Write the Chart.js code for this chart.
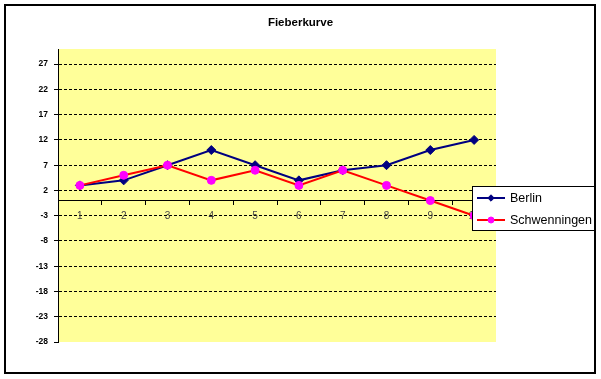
<!DOCTYPE html>
<html>
<head>
<meta charset="utf-8">
<script src="https://cdn.jsdelivr.net/npm/chart.js@4/dist/chart.umd.min.js"></script>
<style>
html,body{margin:0;padding:0;background:#fff;}
#wrap{width:601px;height:379px;}
</style>
</head>
<body>
<div id="wrap"><canvas id="c" width="601" height="379"></canvas></div>
<script>
const categories = ['1','2','3','4','5','6','7','8','9','10'];
const berlin = [3,4,7,10,7,4,6,7,10,12];
const schwenningen = [3,5,7,4,6,3,6,3,0,-3];
const yTicks = [-28,-23,-18,-13,-8,-3,2,7,12,17,22,27];
const seriesNames = ['Berlin','Schwenningen'];
const chartTitle = 'Fieberkurve';

const framePlugin = {
  id: 'frame',
  beforeDraw(chart) {
    const {ctx, chartArea: a} = chart;
    ctx.save();
    ctx.fillStyle = '#fff';
    ctx.fillRect(0, 0, chart.width, chart.height);
    ctx.fillStyle = '#FFFF99';
    ctx.fillRect(a.left, a.top, a.right - a.left, a.bottom - a.top);
    ctx.restore();
  },
  afterDraw(chart) {
    const ctx = chart.ctx;
    ctx.save();
    // legend box
    const lx = 472.5, ly = 186.5, lw = 122, lh = 44;
    ctx.fillStyle = '#fff';
    ctx.fillRect(lx, ly, lw, lh);
    ctx.strokeStyle = '#000';
    ctx.lineWidth = 1;
    ctx.strokeRect(lx, ly, lw, lh);
    chart.data.datasets.forEach((ds, i) => {
      const cy = 198 + i * 22;
      ctx.strokeStyle = ds.borderColor;
      ctx.lineWidth = 2;
      ctx.beginPath();
      ctx.moveTo(477, cy);
      ctx.lineTo(505, cy);
      ctx.stroke();
      ctx.fillStyle = ds.pointBackgroundColor;
      ctx.strokeStyle = ds.pointBorderColor;
      ctx.lineWidth = 1;
      ctx.beginPath();
      if (ds.pointStyle === 'rectRot') {
        const r = 3.2;
        ctx.moveTo(491 - r, cy); ctx.lineTo(491, cy - r); ctx.lineTo(491 + r, cy); ctx.lineTo(491, cy + r); ctx.closePath();
      } else {
        ctx.arc(491, cy, 3, 0, Math.PI * 2);
      }
      ctx.fill(); ctx.stroke();
      ctx.fillStyle = '#000';
      ctx.font = '12.5px "Liberation Sans", Arial, sans-serif';
      ctx.textBaseline = 'middle';
      ctx.textAlign = 'left';
      ctx.fillText(ds.label, 510, cy + 0.5);
    });
    // outer border
    ctx.strokeStyle = '#000';
    ctx.lineWidth = 2;
    ctx.strokeRect(5, 5, 590, 368);
    ctx.restore();
  }
};

new Chart(document.getElementById('c'), {
  type: 'line',
  data: {
    labels: categories,
    datasets: [
      {
        label: seriesNames[0],
        data: berlin,
        borderColor: '#000080',
        backgroundColor: '#000080',
        borderWidth: 2,
        pointStyle: 'rectRot',
        pointRadius: 4.5,
        pointBorderWidth: 1,
        pointBackgroundColor: '#000080',
        pointBorderColor: '#000080',
        tension: 0,
        order: 2
      },
      {
        label: seriesNames[1],
        data: schwenningen,
        borderColor: '#FF0000',
        backgroundColor: '#FF00FF',
        borderWidth: 2,
        pointStyle: 'circle',
        pointRadius: 4,
        pointBorderWidth: 1,
        pointBackgroundColor: '#FF00FF',
        pointBorderColor: '#FF00FF',
        tension: 0,
        order: 1
      }
    ]
  },
  options: {
    responsive: false,
    animation: false,
    devicePixelRatio: 1,
    layout: { padding: { left: 0, right: 0, top: 0, bottom: 37 } },
    plugins: {
      legend: { display: false },
      tooltip: { enabled: false },
      title: {
        display: true,
        text: chartTitle,
        color: '#000',
        font: { family: '"Liberation Sans", Arial, sans-serif', size: 11.5, weight: 'bold' },
        padding: { top: 16, bottom: 19.2 }
      }
    },
    scales: {
      x: {
        type: 'category',
        position: { y: 0 },
        offset: true,
        grid: {
          offset: true,
          drawOnChartArea: false,
          drawTicks: true,
          tickLength: 4,
          tickColor: '#000',
          tickWidth: 1
        },
        border: { display: true, color: '#000', width: 1 },
        ticks: {
          color: '#444',
          padding: 6,
          maxRotation: 0,
          autoSkip: false,
          font: { family: '"Liberation Sans", Arial, sans-serif', size: 10 }
        }
      },
      y: {
        type: 'linear',
        position: 'left',
        min: -28,
        max: 30,
        afterFit(s) { s.width = 58; },
        afterBuildTicks(s) { s.ticks = yTicks.map(v => ({ value: v })); },
        grid: {
          color: ctx => (ctx.tick && ctx.tick.value === -28) ? 'rgba(0,0,0,0)' : '#000',
          lineWidth: 1,
          tickColor: '#000',
          tickLength: 4,
          tickBorderDash: []
        },
        border: { display: true, color: '#000', width: 1, dash: [3, 2] },
        ticks: {
          color: '#000',
          padding: 6,
          font: { family: '"Liberation Sans", Arial, sans-serif', size: 8.5, weight: 'bold' }
        }
      },
      yR: {
        type: 'linear',
        position: 'right',
        display: true,
        afterFit(s) { s.width = 105; },
        grid: { display: false, drawOnChartArea: false },
        border: { display: false },
        ticks: { display: false }
      }
    }
  },
  plugins: [framePlugin]
});
</script>
</body>
</html>
